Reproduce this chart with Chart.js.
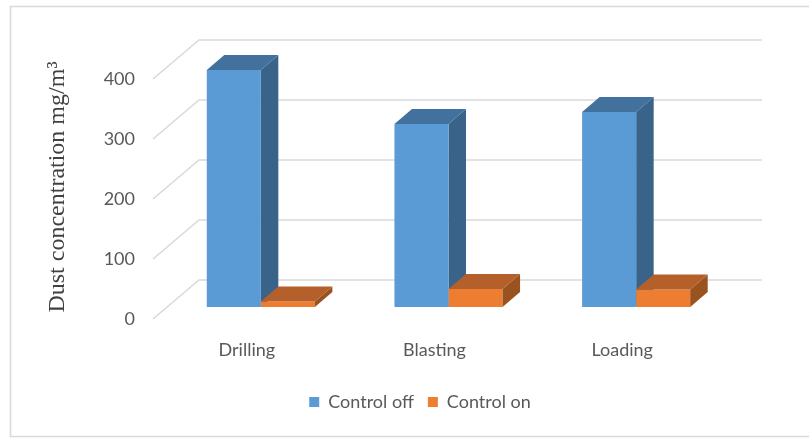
<!DOCTYPE html>
<html>
<head>
<meta charset="utf-8">
<script src="https://cdn.jsdelivr.net/npm/chart.js@4.4.1/dist/chart.umd.min.js"></script>
<style>
  html, body { margin: 0; padding: 0; background: #fff; }
  #wrap { position: absolute; left: 0; top: 0; width: 809px; height: 439px; }
</style>
</head>
<body>
<div id="wrap"><canvas id="chart01"></canvas></div>
<script>
// データ
var categories = ["Drilling", "Blasting", "Loading"];
var controlOff = [395, 305, 325];
var controlOn = [9, 30, 29];
var yTicks = [0, 100, 200, 300, 400];

// 3D風の奥行き
var depthX = 17.5, depthY = -15;   // 棒の奥行き
var wallX = 32, wallY = -27;       // 棒の面 → 奥の壁
var frontX = -14, frontY = 12;     // 棒の面 → 手前の面

var faceColors = [
  { top: "#41719c", side: "#3a6389" },
  { top: "#b5602a", side: "#9a531e" }
];

function drawFaces(chart, dsIndex) {
  var ctx = chart.ctx;
  var meta = chart.getDatasetMeta(dsIndex);
  meta.data.forEach(function (bar) {
    var p = bar.getProps(["x", "y", "base", "width"], true);
    var l = p.x - p.width / 2, r = p.x + p.width / 2;
    ctx.fillStyle = faceColors[dsIndex].side;
    ctx.beginPath();
    ctx.moveTo(r, p.y);
    ctx.lineTo(r + depthX, p.y + depthY);
    ctx.lineTo(r + depthX, p.base + depthY);
    ctx.lineTo(r, p.base);
    ctx.closePath();
    ctx.fill();
    ctx.fillStyle = faceColors[dsIndex].top;
    ctx.beginPath();
    ctx.moveTo(l, p.y);
    ctx.lineTo(l + depthX, p.y + depthY);
    ctx.lineTo(r + depthX, p.y + depthY);
    ctx.lineTo(r, p.y);
    ctx.closePath();
    ctx.fill();
  });
}

var bar3d = {
  id: "bar3d",
  beforeDraw: function (chart) {
    var ctx = chart.ctx;
    ctx.save();
    ctx.fillStyle = "#fff";
    ctx.fillRect(0, 0, chart.width, chart.height);
    ctx.strokeStyle = "#d9d9d9";
    ctx.lineWidth = 1.5;
    ctx.beginPath();
    ctx.moveTo(820, 6.5);
    ctx.lineTo(10.5, 6.5);
    ctx.lineTo(10.5, 436.5);
    ctx.lineTo(820, 436.5);
    ctx.stroke();
    ctx.restore();
  },
  beforeDatasetsDraw: function (chart) {
    var ctx = chart.ctx, a = chart.chartArea, y = chart.scales.y;
    ctx.save();
    // 目盛線（奥の壁と斜めの線）
    ctx.strokeStyle = "#d9d9d9";
    ctx.lineWidth = 1.5;
    yTicks.forEach(function (v) {
      var py = y.getPixelForValue(v);
      ctx.beginPath();
      ctx.moveTo(a.left + frontX, py + frontY);
      ctx.lineTo(a.left + wallX, py + wallY);
      ctx.lineTo(a.right + wallX, py + wallY);
      ctx.stroke();
    });
    drawFaces(chart, 0);
    ctx.restore();
  },
  afterDatasetsDraw: function (chart) {
    chart.ctx.save();
    drawFaces(chart, 1);
    chart.ctx.restore();
  }
};

var labelFont = { family: "Lato", size: 18 };

var ctx = document.getElementById("chart01");
var chart = new Chart(ctx, {
  type: "bar",
  data: {
    labels: categories,
    datasets: [
      { label: "Control off", data: controlOff, backgroundColor: "#5b9bd5" },
      { label: "Control on", data: controlOn, backgroundColor: "#ed7d31" }
    ]
  },
  options: {
    responsive: true,
    maintainAspectRatio: false,
    animation: false,
    categoryPercentage: 0.576,
    barPercentage: 1,
    layout: { padding: { left: 40, top: 67, right: 9, bottom: 18 } },
    plugins: {
      tooltip: { enabled: false },
      legend: {
        position: "bottom",
        labels: { boxWidth: 10, boxHeight: 10, color: "#595959", font: labelFont, padding: 14 }
      }
    },
    scales: {
      x: {
        grid: { display: false, drawTicks: false },
        border: { display: false },
        ticks: { color: "#595959", font: labelFont, padding: 32, labelOffset: frontX },
        afterFit: function (s) { s.height = 72; }
      },
      y: {
        min: 0,
        max: 400,
        grid: { display: false, drawTicks: false },
        border: { display: false },
        ticks: { stepSize: 100, color: "#595959", font: labelFont, padding: 32, labelOffset: frontY },
        title: {
          display: true,
          text: "Dust concentration mg/m³",
          color: "#404040",
          font: { family: "Liberation Serif", size: 24 },
          padding: { top: 3, bottom: 0 }
        },
        afterFit: function (s) { s.width = 127; }
      },
      // 右側の余白用
      yRight: {
        position: "right",
        grid: { display: false, drawTicks: false },
        border: { display: false },
        ticks: { display: false },
        afterFit: function (s) { s.width = 70; }
      }
    }
  },
  plugins: [bar3d]
});
</script>
</body>
</html>
